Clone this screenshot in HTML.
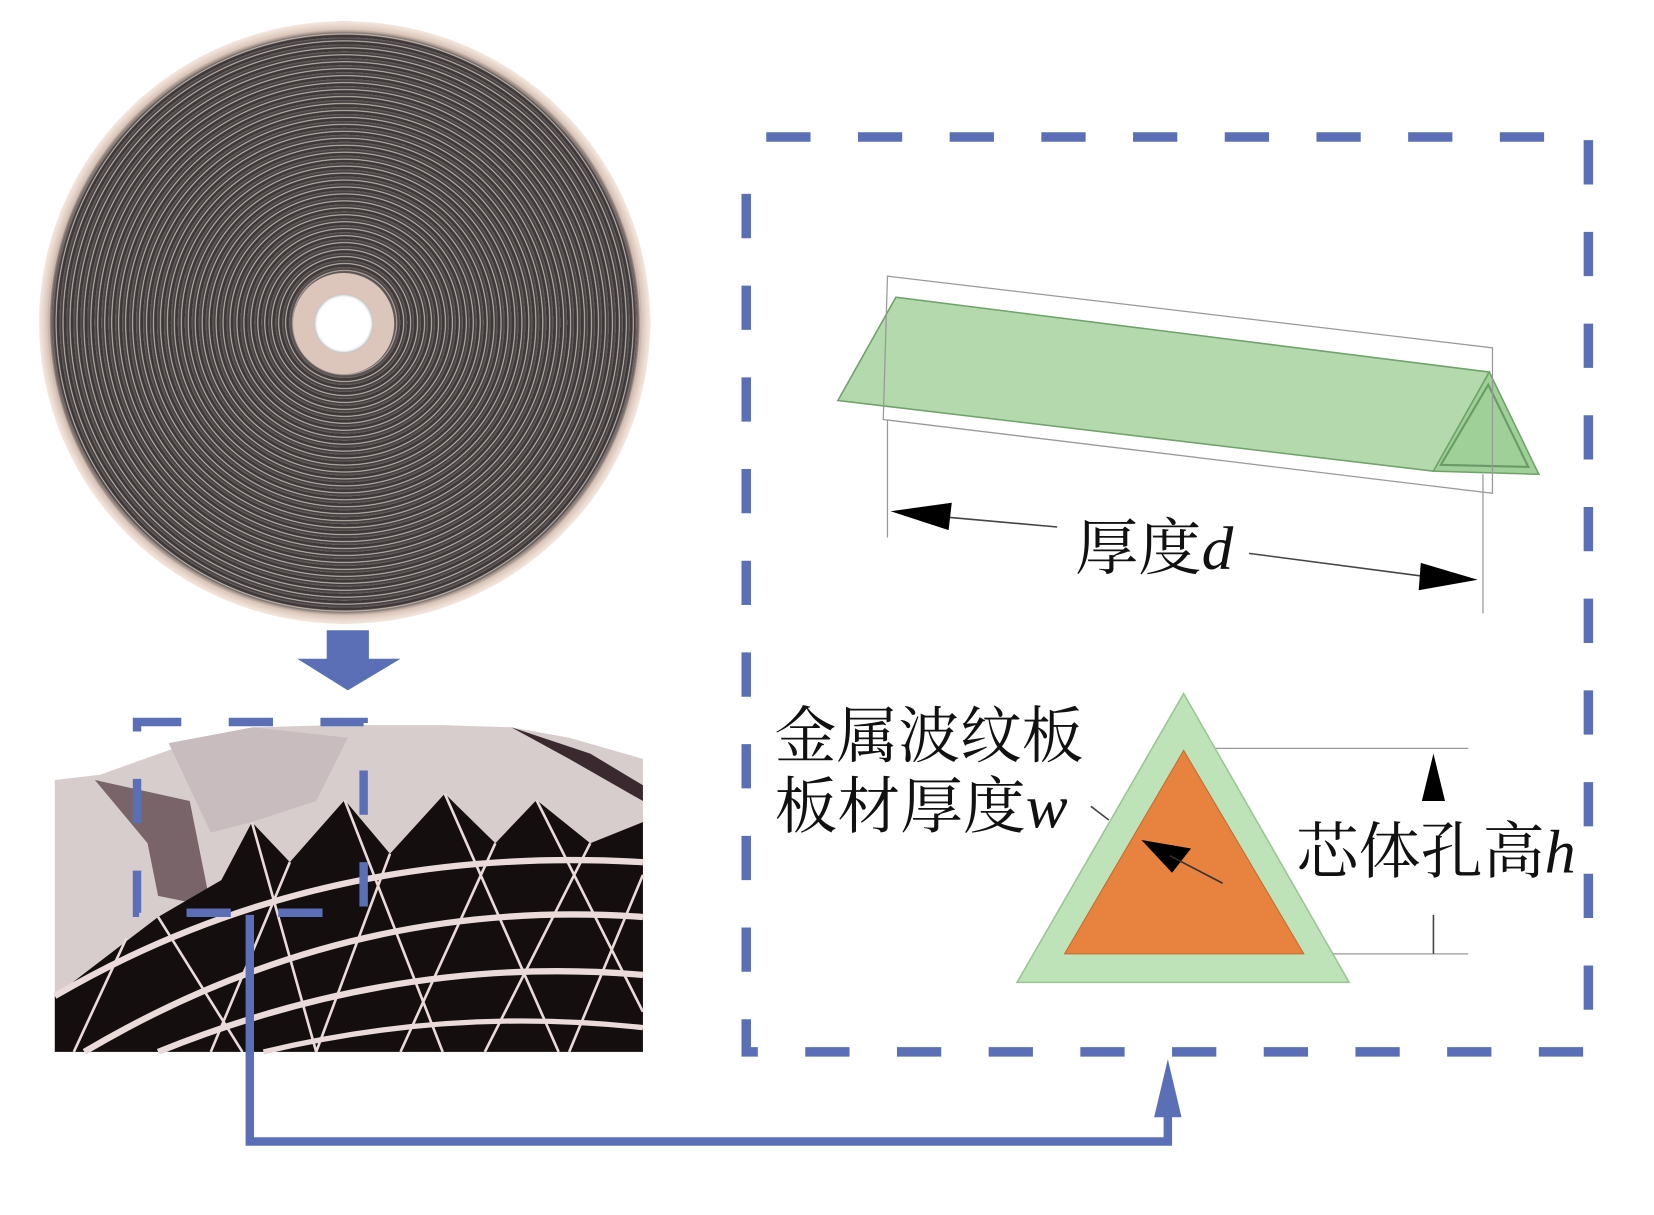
<!DOCTYPE html>
<html><head><meta charset="utf-8"><style>
html,body{margin:0;padding:0;background:#fff;}
#wrap{position:relative;width:1654px;height:1215px;overflow:hidden;background:#fff;}
#inner{position:absolute;left:0;top:0;width:1560px;height:1146px;transform:scale(1.054);transform-origin:0 0;}
#disc{position:absolute;left:37px;top:20px;width:580px;height:572px;border-radius:50%;
background:radial-gradient(ellipse at 50% 50%, rgba(0,0,0,0) 0 276px, #d9c4b8 282px, #ecdcd2 287px, #f4e8e0 290px),
repeating-radial-gradient(circle at 50% 50%, #3e3838 0 2.2px, #c8c0bb 3.2px, #3e3838 4.2px, #6a6464 6.6px);}
#collar{position:absolute;left:278px;top:259px;width:96px;height:96px;border-radius:50%;background:#dcc6bc;box-shadow:0 0 6px #9a8a86;}
#hole{position:absolute;left:298px;top:279px;width:56px;height:56px;border-radius:50%;background:#fff;box-shadow:inset 0 0 3px #777;}
svg{position:absolute;left:0;top:0;}
.t{font-family:"Liberation Serif","Noto Serif CJK SC",serif;font-size:58px;fill:#111;}
.i{font-family:"Liberation Serif",serif;font-style:italic;}
</style></head><body><div id="wrap"><div id="inner">
<div id="disc"></div><div id="collar"></div><div id="hole"></div>
<svg width="1560" height="1146" viewBox="0 0 1560 1146">
<polygon points="310,598 350,598 350,625 380,625 330,655 282,625 310,625" fill="#5a6fb5"/>
<rect x="52" y="688" width="558" height="310" fill="#fff"/>
<polygon points="52,740 95,735 165,710 240,690 320,688 420,688 485,690 540,700 610,720 610,998 52,998" fill="#d8cdcd"/>
<polygon points="160,705 240,690 330,700 300,760 239,780 200,790" fill="#c8bcbe"/>
<polygon points="90,740 140,800 150,850 200,860 180,760" fill="#5a4048" opacity="0.75"/>
<polygon points="485,690 560,715 610,745 610,760 540,720" fill="#3a2a30"/>
<polygon points="52,945 150,870 210,835 239,780 275,818 327,759 370,810 422,753 470,800 509,759 560,800 610,780 610,998 52,998" fill="#140e0e"/>
<g stroke="#eadada" fill="none">
<path d="M52,945 Q300,800 610,818" stroke-width="6"/>
<path d="M80,998 Q330,850 610,870" stroke-width="6"/>
<path d="M150,998 Q380,905 610,925" stroke-width="6"/>
<path d="M250,998 Q430,955 610,975" stroke-width="5"/>
<g stroke-width="2.5">
<path d="M275,818 L200,998 M327,759 L420,998 M370,810 L300,998 M422,753 L530,998 M470,800 L380,998 M509,759 L610,960 M560,800 L460,998 M610,830 L540,998 M239,780 L300,998 M120,890 L70,998 M150,870 L230,998"/>
</g></g>
<rect x="130" y="685" width="215" height="181" fill="none" stroke="#5a6fb5" stroke-width="8" stroke-dasharray="42,45"/>
<polyline points="237,868 237,1083 1108,1083 1108,1055" fill="none" stroke="#5a6fb5" stroke-width="8"/>
<polygon points="1095,1060 1121,1060 1108,1005" fill="#5a6fb5"/>
<path d="M727,130 L1507,130 L1507,998 L708,998 L708,150" fill="none" stroke="#5a6fb5" stroke-width="9" stroke-dasharray="42,45"/>
<polygon points="795,380 850,282 1413,353 1360,447" fill="#b3d9ad" stroke="#6fa36a" stroke-width="1.5"/>
<polygon points="1413,353 1460,450 1360,447" fill="#9fd098" stroke="#6fa36a" stroke-width="1.5"/>
<polygon points="1412,365 1450,443 1367,441" fill="none" stroke="#6a9a66" stroke-width="2"/>
<g stroke="#999" stroke-width="1.2" fill="none">
<path d="M842,262 L1416,330 L1416,468 L838,398 Z"/>
<path d="M842,398 L842,510 M1407,450 L1407,582"/>
<path d="M1140,710 L1393,710 M1255,905 L1393,905"/>
</g>
<g stroke="#444" stroke-width="1.5">
<path d="M880,489 L1003,500 M1185,525 L1360,548 M1360,760 L1360,740 M1360,868 L1360,905 M1035,765 L1052,778"/>
</g>
<polygon points="845,485 903,477 900,503" fill="#000"/>
<polygon points="1402,550 1348,534 1346,560" fill="#000"/>
<polygon points="1360,715 1349,760 1371,760" fill="#000"/>
<polygon points="965,932 1123,658 1280,932" fill="#bfe3b9" stroke="#9cc497" stroke-width="1.5"/>
<polygon points="1010,905 1123,712 1237,905" fill="#e8833f" stroke="#c46a2e" stroke-width="1"/>
<polygon points="1083,797 1130,805 1112,828" fill="#000"/>
<line x1="1160" y1="838" x2="1110" y2="812" stroke="#333" stroke-width="1.5"/>
<text class="t" x="1020" y="540" textLength="150" lengthAdjust="spacingAndGlyphs">厚度<tspan class="i">d</tspan></text>
<text class="t" x="735" y="718" textLength="293" lengthAdjust="spacingAndGlyphs">金属波纹板</text>
<text class="t" x="735" y="785" textLength="278" lengthAdjust="spacingAndGlyphs">板材厚度<tspan class="i">w</tspan></text>
<text class="t" x="1230" y="828" textLength="265" lengthAdjust="spacingAndGlyphs">芯体孔高<tspan class="i">h</tspan></text>
</svg>
</div></div></body></html>
